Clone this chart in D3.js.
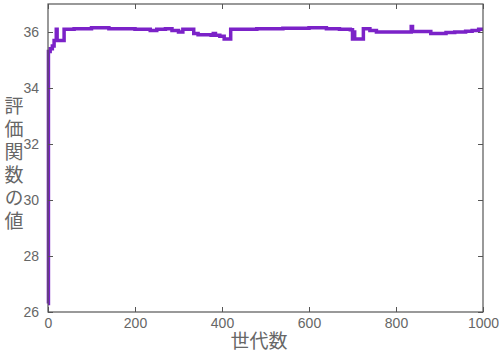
<!DOCTYPE html>
<html><head><meta charset="utf-8">
<script src="https://cdn.jsdelivr.net/npm/d3@7"></script>
<style>body{margin:0;background:#fff}svg{display:block}</style>
</head><body>
<svg id="c" width="499" height="354"></svg>
<script>
const generations = [0,1,5,10,14,19,21,37,60,100,140,200,235,250,270,285,300,310,330,335,345,375,380,385,395,405,420,440,480,540,600,640,670,695,700,702,705,720,725,740,755,810,835,838,880,915,935,960,975,990,1000];
const fitness = [26.3,35.3,35.4,35.5,35.7,36.1,35.7,36.1,36.12,36.15,36.12,36.1,36.05,36.1,36.12,36.05,36.0,36.1,36.1,35.95,35.9,35.88,35.95,35.88,35.85,35.75,36.1,36.1,36.12,36.13,36.15,36.12,36.1,36.08,35.75,36.0,35.75,35.75,36.12,36.05,36.0,36.0,36.2,36.02,35.95,35.98,36.0,36.03,36.05,36.1,36.1];
const xTicks = [0,200,400,600,800,1000];
const yTicks = [26,28,30,32,34,36];
const xLabel = "世代数";
const yLabel = "評価関数の値";

const svg = d3.select("#c");
const L=48, R=483, T=4, B=312;
const x = d3.scaleLinear().domain([0,1000]).range([L,R]);
const y = d3.scaleLinear().domain([26,37]).range([B,T]);
const data = generations.map((g,i)=>({g, v:fitness[i]}));

const line = d3.line().x(d=>x(d.g)).y(d=>y(d.v)).curve(d3.curveStepAfter);
svg.append("path").datum(data).attr("d",line).attr("fill","none")
  .attr("stroke","#7b22c8").attr("stroke-width",3.5).attr("stroke-linejoin","miter");

const tc="#555", fc="#666", font="'Liberation Sans', Arial, sans-serif";
const ax = (g)=>{g.select(".domain").remove(); g.selectAll("line").attr("stroke",tc);};
svg.append("g").attr("transform",`translate(0,${B})`)
  .call(d3.axisBottom(x).tickValues(xTicks).tickFormat(d3.format("d")).tickSizeInner(-5).tickSizeOuter(0).tickPadding(6))
  .call(ax).selectAll("text").attr("fill",fc).style("font-family",font).style("font-size","14px");
svg.append("g").attr("transform",`translate(0,${T})`)
  .call(d3.axisTop(x).tickValues(xTicks).tickSizeInner(-5).tickSizeOuter(0).tickFormat(""))
  .call(ax);
svg.append("g").attr("transform",`translate(${L},0)`)
  .call(d3.axisLeft(y).tickValues(yTicks).tickSizeInner(-5).tickSizeOuter(0).tickPadding(9))
  .call(ax).selectAll("text").attr("fill",fc).style("font-family",font).style("font-size","14px");
svg.append("g").attr("transform",`translate(${R},0)`)
  .call(d3.axisRight(y).tickValues(yTicks).tickSizeInner(-5).tickSizeOuter(0).tickFormat(""))
  .call(ax);
svg.append("rect").attr("x",L).attr("y",T).attr("width",R-L).attr("height",B-T)
  .attr("fill","none").attr("stroke",tc).attr("stroke-width",1.2);

svg.append("text").attr("x",259).attr("y",348).attr("text-anchor","middle")
  .attr("fill",fc).style("font-family","'Noto Sans CJK JP', sans-serif").style("font-size","19px").text(xLabel);
svg.append("text").attr("x",14).attr("y",96)
  .attr("fill",fc).style("font-family","'Noto Sans CJK JP', sans-serif").style("font-size","19px")
  .style("writing-mode","vertical-rl").style("text-orientation","upright").style("letter-spacing","4px")
  .text(yLabel);
</script>
</body></html>
